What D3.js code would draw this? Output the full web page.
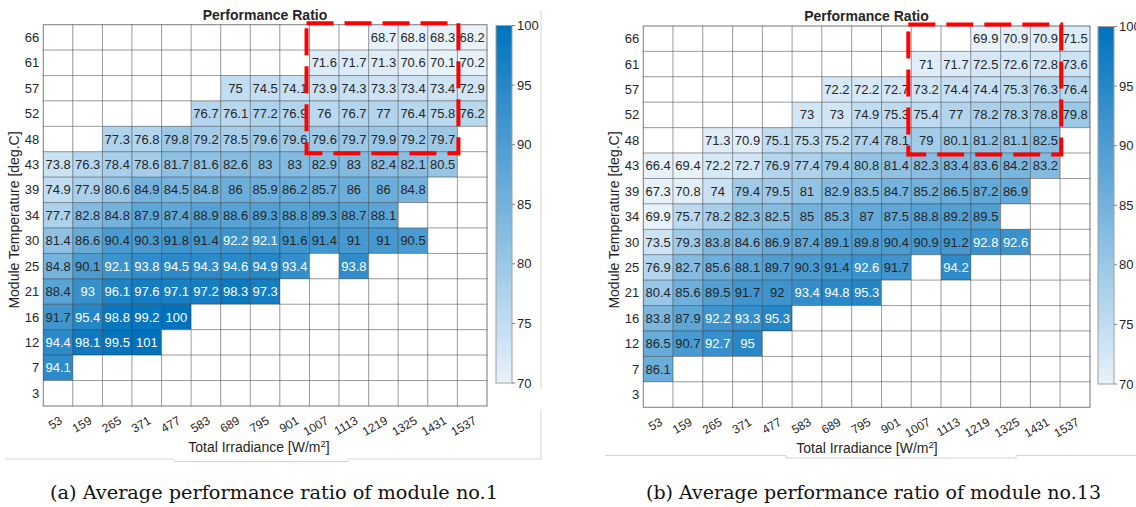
<!DOCTYPE html>
<html>
<head>
<meta charset="utf-8">
<script src="https://cdn.jsdelivr.net/npm/d3@7"></script>
<style>
  html, body { margin: 0; padding: 0; background: #fff; }
  svg { display: block; font-family: "Liberation Sans", Arial, Helvetica, sans-serif; }
</style>
</head>
<body>
<svg id="chart" width="1136" height="507"></svg>
<script>
// Irradiance bins (columns) and module temperature bins (rows, top to bottom)
const irradiance = [53, 159, 265, 371, 477, 583, 689, 795, 901, 1007, 1113, 1219, 1325, 1431, 1537];
const temperature = [66, 61, 57, 52, 48, 43, 39, 34, 30, 25, 21, 16, 12, 7, 3];
const colorTicks = [70, 75, 80, 85, 90, 95, 100];
const colorRange = [70, 100];

const _ = null;
// Average performance ratio, module no.1 (rows follow `temperature`)
const module1Ratio = [
  [_, _, _, _, _, _, _, _, _, _, _, 68.7, 68.8, 68.3, 68.2],
  [_, _, _, _, _, _, _, _, _, 71.6, 71.7, 71.3, 70.6, 70.1, 70.2],
  [_, _, _, _, _, _, 75, 74.5, 74.1, 73.9, 74.3, 73.3, 73.4, 73.4, 72.9],
  [_, _, _, _, _, 76.7, 76.1, 77.2, 76.9, 76, 76.7, 77, 76.4, 75.8, 76.2],
  [_, _, 77.3, 76.8, 79.8, 79.2, 78.5, 79.6, 79.6, 79.6, 79.7, 79.9, 79.2, 79.7, _],
  [73.8, 76.3, 78.4, 78.6, 81.7, 81.6, 82.6, 83, 83, 82.9, 83, 82.4, 82.1, 80.5, _],
  [74.9, 77.9, 80.6, 84.9, 84.5, 84.8, 86, 85.9, 86.2, 85.7, 86, 86, 84.8, _, _],
  [77.7, 82.8, 84.8, 87.9, 87.4, 88.9, 88.6, 89.3, 88.8, 89.3, 88.7, 88.1, _, _, _],
  [81.4, 86.6, 90.4, 90.3, 91.8, 91.4, 92.2, 92.1, 91.6, 91.4, 91, 91, 90.5, _, _],
  [84.8, 90.1, 92.1, 93.8, 94.5, 94.3, 94.6, 94.9, 93.4, _, 93.8, _, _, _, _],
  [88.4, 93, 96.1, 97.6, 97.1, 97.2, 98.3, 97.3, _, _, _, _, _, _, _],
  [91.7, 95.4, 98.8, 99.2, 100, _, _, _, _, _, _, _, _, _, _],
  [94.4, 98.1, 99.5, 101, _, _, _, _, _, _, _, _, _, _, _],
  [94.1, _, _, _, _, _, _, _, _, _, _, _, _, _, _],
  [_, _, _, _, _, _, _, _, _, _, _, _, _, _, _]
];
// Average performance ratio, module no.13
const module13Ratio = [
  [_, _, _, _, _, _, _, _, _, _, _, 69.9, 70.9, 70.9, 71.5],
  [_, _, _, _, _, _, _, _, _, 71, 71.7, 72.5, 72.6, 72.8, 73.6],
  [_, _, _, _, _, _, 72.2, 72.2, 72.7, 73.2, 74.4, 74.4, 75.3, 76.3, 76.4],
  [_, _, _, _, _, 73, 73, 74.9, 75.3, 75.4, 77, 78.2, 78.3, 78.8, 79.8],
  [_, _, 71.3, 70.9, 75.1, 75.3, 75.2, 77.4, 78.1, 79, 80.1, 81.2, 81.1, 82.5, _],
  [66.4, 69.4, 72.2, 72.7, 76.9, 77.4, 79.4, 80.8, 81.4, 82.3, 83.4, 83.6, 84.2, 83.2, _],
  [67.3, 70.8, 74, 79.4, 79.5, 81, 82.9, 83.5, 84.7, 85.2, 86.5, 87.2, 86.9, _, _],
  [69.9, 75.7, 78.2, 82.3, 82.5, 85, 85.3, 87, 87.5, 88.8, 89.2, 89.5, _, _, _],
  [73.5, 79.3, 83.8, 84.6, 86.9, 87.4, 89.1, 89.8, 90.4, 90.9, 91.2, 92.8, 92.6, _, _],
  [76.9, 82.7, 85.6, 88.1, 89.7, 90.3, 91.4, 92.6, 91.7, _, 94.2, _, _, _, _],
  [80.4, 85.6, 89.5, 91.7, 92, 93.4, 94.8, 95.3, _, _, _, _, _, _, _],
  [83.8, 87.9, 92.2, 93.3, 95.3, _, _, _, _, _, _, _, _, _, _],
  [86.5, 90.7, 92.7, 95, _, _, _, _, _, _, _, _, _, _, _],
  [86.1, _, _, _, _, _, _, _, _, _, _, _, _, _, _],
  [_, _, _, _, _, _, _, _, _, _, _, _, _, _, _]
];

// Highlighted region (irradiance / temperature bins) on each map
const highlightIrr = [1007, 1431];
const highlightTemp = [66, 48];

const captions = [
  "(a) Average performance ratio of module no.1",
  "(b) Average performance ratio of module no.13"
];

const svg = d3.select("#chart");
const color = d3.scaleLinear().domain(colorRange).range(["#e8f2fb", "#0072bd"]).clamp(true);
const ink = "#262626";

// colorbar gradient
const defs = svg.append("defs");
const grad = defs.append("linearGradient").attr("id", "cbGrad")
  .attr("x1", 0).attr("y1", 1).attr("x2", 0).attr("y2", 0);
d3.range(0, 1.0001, 0.1).forEach(t => {
  grad.append("stop").attr("offset", t)
    .attr("stop-color", color(colorRange[0] + t * (colorRange[1] - colorRange[0])));
});

const panels = [
  { data: module1Ratio, caption: captions[0],
    grid: { x0: 43.3, x1: 487, y0: 24.7, y1: 406 },
    cb: { x0: 496, x1: 512, y0: 25.5, y1: 383 },
    ylabel: { x: 14, y: 220 }, xlabel: { x: 259, y: 452 }, title: { x: 265, y: 20 },
    cap: { x: 274, y: 499, w: 448 },
    frame: [
      "M541,10V389", "M541,409V459", "M5,459H174V461.5H348V459H541"
    ] },
  { data: module13Ratio, caption: captions[1],
    grid: { x0: 643.3, x1: 1090, y0: 26, y1: 407.3 },
    cb: { x0: 1098, x1: 1114, y0: 26.5, y1: 384 },
    ylabel: { x: 614, y: 220 }, xlabel: { x: 867, y: 453 }, title: { x: 866.5, y: 21 },
    cap: { x: 873.5, y: 499, w: 455 },
    frame: [
      "M605,455.5H786V458H1016V455.5H1136"
    ] }
];

panels.forEach(p => {
  const g = svg.append("g");
  const x = d3.scaleBand().domain(irradiance).range([p.grid.x0, p.grid.x1]);
  const y = d3.scaleBand().domain(temperature).range([p.grid.y0, p.grid.y1]);
  const bw = x.bandwidth(), bh = y.bandwidth();

  // faint figure frame lines
  g.selectAll("path.frame").data(p.frame).join("path")
    .attr("class", "frame").attr("d", d => d)
    .attr("fill", "none").attr("stroke", "#d4d4d4").attr("stroke-width", 1);

  const cells = [];
  temperature.forEach((t, i) => irradiance.forEach((ir, j) => {
    cells.push({ t, ir, v: p.data[i][j] });
  }));

  // cells
  g.append("g").selectAll("rect").data(cells).join("rect")
    .attr("x", d => x(d.ir)).attr("y", d => y(d.t))
    .attr("width", bw).attr("height", bh)
    .attr("fill", d => d.v == null ? "#ffffff" : color(d.v))
    .attr("stroke", "rgba(30,30,30,0.32)").attr("stroke-width", 1);

  // outer border
  g.append("rect")
    .attr("x", p.grid.x0).attr("y", p.grid.y0)
    .attr("width", p.grid.x1 - p.grid.x0).attr("height", p.grid.y1 - p.grid.y0)
    .attr("fill", "none").attr("stroke", "rgba(30,30,30,0.35)").attr("stroke-width", 1);

  // value labels
  g.append("g").selectAll("text").data(cells.filter(d => d.v != null)).join("text")
    .attr("x", d => x(d.ir) + bw / 2).attr("y", d => y(d.t) + bh / 2)
    .attr("text-anchor", "middle").attr("dominant-baseline", "central")
    .attr("font-size", 13)
    .attr("fill", d => d.v > 92.05 ? "#ffffff" : ink)
    .text(d => d.v);

  // y tick labels
  g.append("g").selectAll("text").data(temperature).join("text")
    .attr("x", p.grid.x0 - 4).attr("y", d => y(d) + bh / 2)
    .attr("text-anchor", "end").attr("dominant-baseline", "central")
    .attr("font-size", 13).attr("fill", ink).text(d => d);

  // x tick labels (rotated)
  g.append("g").selectAll("text").data(irradiance).join("text")
    .attr("transform", d => `translate(${x(d) + bw / 2 + 5},${p.grid.y1 + 17}) rotate(-30)`)
    .attr("text-anchor", "end")
    .attr("font-size", 12).attr("fill", ink).text(d => d);

  // title
  g.append("text").attr("x", p.title.x).attr("y", p.title.y)
    .attr("text-anchor", "middle").attr("font-size", 14).attr("font-weight", "bold")
    .attr("fill", ink).text("Performance Ratio");

  // axis labels
  g.append("text")
    .attr("transform", `translate(${p.ylabel.x},${p.ylabel.y}) rotate(-90)`)
    .attr("text-anchor", "middle").attr("dominant-baseline", "central")
    .attr("font-size", 14).attr("fill", ink).text("Module Temperature [deg.C]");

  const xl = g.append("text").attr("x", p.xlabel.x).attr("y", p.xlabel.y)
    .attr("text-anchor", "middle").attr("font-size", 14).attr("fill", ink);
  xl.append("tspan").text("Total Irradiance [W/m");
  xl.append("tspan").attr("dy", -5).attr("font-size", 9.5).text("2");
  xl.append("tspan").attr("dy", 5).text("]");

  // highlighted region
  const hx0 = x(highlightIrr[0]) - 3, hx1 = x(highlightIrr[1]) + bw + 1;
  const hy0 = y(highlightTemp[0]) - 1.5, hy1 = y(highlightTemp[1]) + bh + 1.5;
  g.append("rect")
    .attr("x", hx0).attr("y", hy0).attr("width", hx1 - hx0).attr("height", hy1 - hy0)
    .attr("fill", "none").attr("stroke", "#ff0000").attr("stroke-width", 4)
    .attr("stroke-dasharray", "27,11");

  // colorbar
  const cy = d3.scaleLinear().domain(colorRange).range([p.cb.y1, p.cb.y0]);
  g.append("rect")
    .attr("x", p.cb.x0).attr("y", p.cb.y0)
    .attr("width", p.cb.x1 - p.cb.x0).attr("height", p.cb.y1 - p.cb.y0)
    .attr("fill", "url(#cbGrad)").attr("stroke", "#a0a0a0").attr("stroke-width", 1);
  const ct = g.append("g").selectAll("g").data(colorTicks).join("g")
    .attr("transform", d => `translate(0,${cy(d)})`);
  ct.append("line").attr("x1", p.cb.x1).attr("x2", p.cb.x1 + 3)
    .attr("stroke", "#808080").attr("stroke-width", 1);
  ct.append("text").attr("x", p.cb.x1 + 5).attr("dominant-baseline", "central")
    .attr("font-size", 13).attr("fill", ink).text(d => d);

  // caption
  svg.append("text").attr("x", p.cap.x).attr("y", p.cap.y)
    .attr("text-anchor", "middle")
    .attr("font-family", "'DejaVu Serif', 'Liberation Serif', serif")
    .attr("font-size", 18.5).attr("fill", "#111")
    .attr("textLength", p.cap.w).attr("lengthAdjust", "spacingAndGlyphs")
    .text(p.caption);
});
</script>
</body>
</html>
